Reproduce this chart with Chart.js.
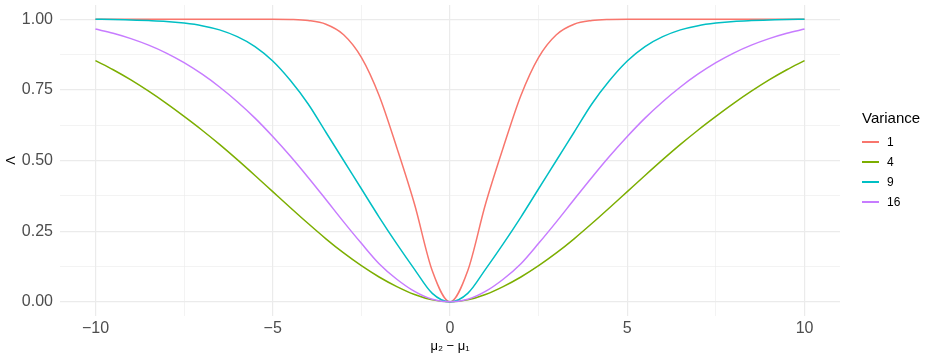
<!DOCTYPE html>
<html lang="en">

<head>
    <meta charset="UTF-8">
    <title>Lambda vs mean difference</title>
    <script src="https://cdn.jsdelivr.net/npm/chart.js"></script>
    <style>
        * {
            box-sizing: border-box;
            margin: 0;
            padding: 0;
        }

        body {
            background-color: #fff;
            font-family: 'Liberation Sans', Arial, sans-serif;
        }

        .wrap {
            position: relative;
            width: 938px;
            height: 360px;
        }

        #legend {
            position: absolute;
            left: 862px;
            top: 108px;
            color: #000;
        }

        #legend .title {
            font-size: 15px;
            line-height: 20px;
            margin-bottom: 4px;
        }

        #legend .item {
            display: flex;
            align-items: center;
            height: 20px;
            font-size: 12px;
        }

        #legend .key {
            width: 17px;
            height: 1.5px;
            margin-right: 8px;
        }
    </style>
</head>

<body>
    <div class="wrap">
        <canvas id="chart" width="938" height="360"></canvas>
        <div id="legend"></div>
    </div>

    <script>
        // mu2 - mu1
        const xs = [-10, -9.5, -9, -8.5, -8, -7.5, -7, -6.5, -6, -5.5, -5, -4.5, -4, -3.5, -3, -2.5, -2, -1.5, -1, -0.5,
            0, 0.5, 1, 1.5, 2, 2.5, 3, 3.5, 4, 4.5, 5, 5.5, 6, 6.5, 7, 7.5, 8, 8.5, 9, 9.5, 10];

        const variance = ['1', '4', '9', '16'];
        const colors = ['#F8766D', '#7CAE00', '#00BFC4', '#C77CFF'];

        const var1 = [1, 1, 1, 1, 1, 1, 1, 1, 1, 1, 1, 0.999, 0.995, 0.982, 0.945, 0.865, 0.73, 0.545, 0.345, 0.11,
            0, 0.11, 0.345, 0.545, 0.73, 0.865, 0.945, 0.982, 0.995, 0.999, 1, 1, 1, 1, 1, 1, 1, 1, 1, 1, 1];
        const var4 = [0.853, 0.821, 0.785, 0.745, 0.702, 0.656, 0.608, 0.557, 0.503, 0.447, 0.39, 0.333, 0.277, 0.223, 0.173, 0.128, 0.088, 0.054, 0.026, 0.007,
            0, 0.007, 0.026, 0.054, 0.088, 0.128, 0.173, 0.223, 0.277, 0.333, 0.39, 0.447, 0.503, 0.557, 0.608, 0.656, 0.702, 0.745, 0.785, 0.821, 0.853];
        const var9 = [1, 0.999, 0.997, 0.995, 0.992, 0.986, 0.977, 0.962, 0.938, 0.903, 0.852, 0.783, 0.7, 0.6, 0.5, 0.4, 0.3, 0.205, 0.115, 0.03,
            0, 0.03, 0.115, 0.205, 0.3, 0.4, 0.5, 0.6, 0.7, 0.783, 0.852, 0.903, 0.938, 0.962, 0.977, 0.986, 0.992, 0.995, 0.997, 0.999, 1];
        const var16 = [0.965, 0.95, 0.931, 0.908, 0.88, 0.846, 0.806, 0.76, 0.708, 0.65, 0.585, 0.515, 0.44, 0.362, 0.283, 0.207, 0.135, 0.08, 0.037, 0.009,
            0, 0.009, 0.037, 0.08, 0.135, 0.207, 0.283, 0.362, 0.44, 0.515, 0.585, 0.65, 0.708, 0.76, 0.806, 0.846, 0.88, 0.908, 0.931, 0.95, 0.965];

        const xTicks = [-10, -7.5, -5, -2.5, 0, 2.5, 5, 7.5, 10];
        const xLabels = [-10, -5, 0, 5, 10];
        const yTicks = [0, 0.125, 0.25, 0.375, 0.5, 0.625, 0.75, 0.875, 1];
        const yLabels = [0, 0.25, 0.5, 0.75, 1];

        const series = [var1, var4, var9, var16];
        const font = "'Liberation Sans', Arial, sans-serif";

        const datasets = series.map((vals, i) => ({
            label: variance[i],
            data: vals.map((v, j) => ({ x: xs[j], y: v })),
            borderColor: colors[i],
            backgroundColor: colors[i],
            borderWidth: 1.5,
            pointRadius: 0,
            cubicInterpolationMode: 'monotone',
            order: series.length - i
        }));

        const isLabel = (list, v) => list.some(t => Math.abs(t - v) < 1e-9);

        new Chart(document.getElementById('chart'), {
            type: 'line',
            data: { datasets },
            options: {
                responsive: false,
                animation: false,
                layout: { padding: { top: 5, right: 98, left: 0, bottom: 0 } },
                plugins: {
                    legend: { display: false },
                    tooltip: { enabled: false }
                },
                scales: {
                    x: {
                        type: 'linear',
                        min: -11,
                        max: 11,
                        afterBuildTicks: s => { s.ticks = xTicks.map(v => ({ value: v })); },
                        afterFit: s => { s.height = 44; },
                        border: { display: false },
                        grid: {
                            color: '#ebebeb',
                            drawTicks: false,
                            lineWidth: c => isLabel(xLabels, c.tick.value) ? 1.2 : 0.6
                        },
                        ticks: {
                            autoSkip: false,
                            maxRotation: 0,
                            padding: 3,
                            color: '#4d4d4d',
                            font: { family: font, size: 16 },
                            callback: v => isLabel(xLabels, v) ? String(v).replace('-', '\u2212') : ''
                        },
                        title: {
                            display: true,
                            text: 'μ₂ − μ₁',
                            color: '#000',
                            font: { family: font, size: 13 },
                            padding: { top: 0, bottom: 6 }
                        }
                    },
                    y: {
                        min: -0.05,
                        max: 1.05,
                        afterBuildTicks: s => { s.ticks = yTicks.map(v => ({ value: v })); },
                        afterFit: s => {
                            s.width = 60;
                            s.paddingTop = 0;
                            s.paddingBottom = 0;
                        },
                        border: { display: false },
                        grid: {
                            color: '#ebebeb',
                            drawTicks: false,
                            lineWidth: c => isLabel(yLabels, c.tick.value) ? 1.2 : 0.6
                        },
                        ticks: {
                            autoSkip: false,
                            padding: 7,
                            color: '#4d4d4d',
                            font: { family: font, size: 16 },
                            callback: v => isLabel(yLabels, v) ? v.toFixed(2) : ''
                        },
                        title: {
                            display: true,
                            text: 'Λ',
                            color: '#000',
                            font: { family: font, size: 13 },
                            padding: 4
                        }
                    }
                }
            }
        });

        // legend
        const legend = document.getElementById('legend');
        let html = '<div class="title">Variance</div>';
        variance.forEach((v, i) => {
            html += `<div class="item"><span class="key" style="background:${colors[i]}"></span>${v}</div>`;
        });
        legend.innerHTML = html;
    </script>
</body>

</html>
